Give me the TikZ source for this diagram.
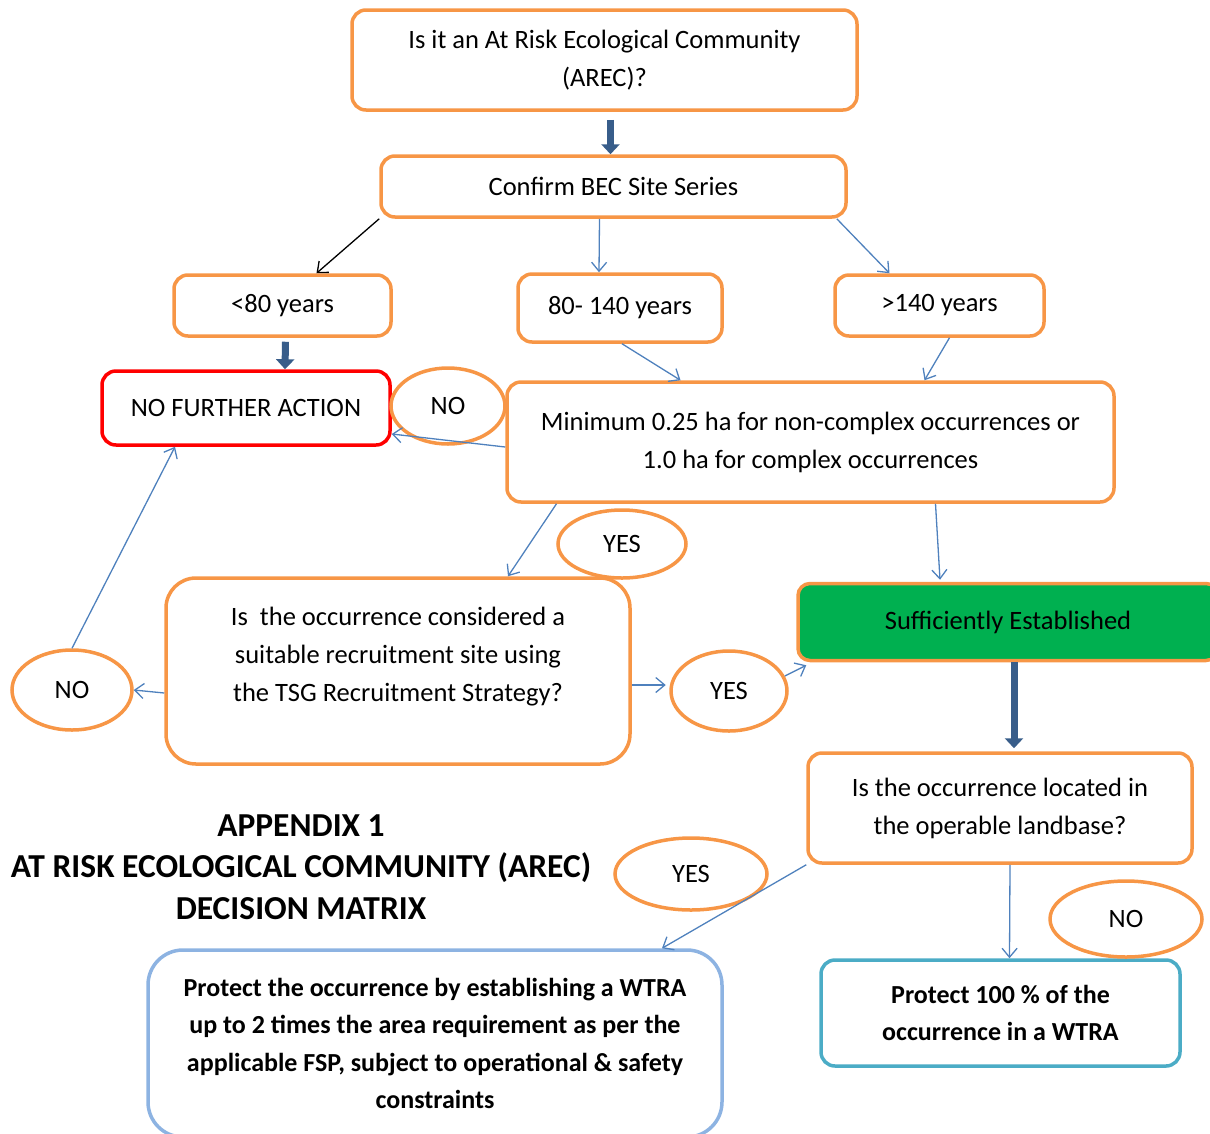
\documentclass[tikz,border=0pt]{standalone}
\usepackage{fontspec}
\setmainfont{Carlito}
\usetikzlibrary{shapes.geometric,arrows.meta}

\definecolor{boxorange}{HTML}{F79646}
\definecolor{stopred}{HTML}{FF0000}
\definecolor{goodgreen}{HTML}{00B050}
\definecolor{tealline}{HTML}{4BACC6}
\definecolor{paleblue}{HTML}{8DB3E2}
\definecolor{arrowblue}{HTML}{4F81BD}
\definecolor{deepblue}{HTML}{385D8A}

\tikzset{
  stepbox/.style={draw=boxorange,line width=3.5pt,rounded corners=14pt,fill=white,align=center,inner sep=0pt},
  answer/.style={ellipse,draw=boxorange,line width=3.5pt,fill=white,inner sep=0pt},
  flow/.style={-{Straight Barb[length=9pt,width=15pt]},draw=arrowblue,line width=1.3pt},
  bigflow/.style={-{Triangle[length=10pt,width=18pt]},draw=deepblue,line width=7pt},
  strong/.style={font=\fontsize{26}{37.5}\selectfont\bfseries},
}

\begin{document}
\begin{tikzpicture}[x=1pt,y=-1pt,font=\fontsize{26.5}{38}\selectfont]
\useasboundingbox (0,0) rectangle (1210,1133);
\node[stepbox,minimum width=505pt,minimum height=100pt] (arec) at (604.5,60) {Is it an At Risk Ecological Community\\(AREC)?};
\node[stepbox,minimum width=465pt,minimum height=61pt] (conf) at (613.5,186.5) {Confirm BEC Site Series};
\node[stepbox,minimum width=217pt,minimum height=61pt] (young) at (282.5,305.5) {<80 years};
\node[stepbox,minimum width=204pt,minimum height=68pt] (mid) at (620,308) {80- 140 years};
\node[stepbox,minimum width=209pt,minimum height=61pt] (old) at (939.5,305.5) {>140 years};
\node[stepbox,draw=stopred,minimum width=288pt,minimum height=74pt] (nfa) at (246,408) {NO FURTHER ACTION};
\node[stepbox,minimum width=607pt,minimum height=120pt] (minbox) at (810.5,442) {Minimum 0.25 ha for non-complex occurrences or\\1.0 ha for complex occurrences};
\node[stepbox,rounded corners=30pt,minimum width=464pt,minimum height=186pt] (recr) at (398,671) {};
\node[align=center] (recr-text) at (398,657) {Is\ \ the occurrence considered a\\suitable recruitment site using\\the TSG Recruitment Strategy?};
\node[stepbox,fill=goodgreen,rounded corners=12pt,minimum width=420pt,minimum height=77pt] (suff) at (1008,622) {Sufficiently Established};
\node[stepbox,minimum width=384pt,minimum height=110pt] (oper) at (1000,808) {Is the occurrence located in\\the operable landbase?};
\node[stepbox,strong,draw=tealline,minimum width=359pt,minimum height=106pt] (protB) at (1000.5,1013) {Protect 100 \% of the\\occurrence in a WTRA};
\node[stepbox,strong,draw=paleblue,rounded corners=35pt,minimum width=574pt,minimum height=187pt] (protA) at (435,1043.5) {Protect the occurrence by establishing a WTRA\\up to 2 times the area requirement as per the\\applicable FSP, subject to operational \& safety\\constraints};
\node[align=center,font=\fontsize{33.5}{41.5}\selectfont\bfseries] (title) at (301,867) {APPENDIX 1\\AT RISK ECOLOGICAL COMMUNITY (AREC)\\DECISION MATRIX};
% answers
\node[answer,minimum width=114pt,minimum height=76pt] (no-top) at (448,406) {NO};
\node[answer,minimum width=128pt,minimum height=68pt] (yes-top) at (622,544) {YES};
\node[answer,minimum width=120pt,minimum height=80pt] (no-left) at (72,690) {NO};
\node[answer,minimum width=116pt,minimum height=80pt] (yes-mid) at (729,691) {YES};
\node[answer,minimum width=152pt,minimum height=72pt] (yes-low) at (691,874) {YES};
\node[answer,minimum width=152pt,minimum height=76pt] (no-low) at (1126,919) {NO};
% connectors
\draw[bigflow] ([xshift=6pt,yshift=-8pt]arec.south) -- ([xshift=-3pt]conf.north);
\draw[-{Straight Barb[length=9pt,width=15pt]},line width=1.3pt] (conf.south west) -- ([xshift=34pt]young.north);
\draw[flow] ([xshift=-14pt]conf.south) -- ([xshift=-21pt]mid.north);
\draw[flow] ([xshift=-11pt]conf.south east) -- ([xshift=-50pt]old.north);
\draw[bigflow] ([xshift=3pt,yshift=-4pt]young.south) -- ([xshift=39pt]nfa.north);
\draw[flow] ([xshift=2pt]mid.south) -- ([xshift=-130pt]minbox.north);
\draw[flow] ([xshift=10pt]old.south) -- ([xshift=114pt]minbox.north);
\draw[flow] ([yshift=-5pt]minbox.west) -- ([yshift=-26pt]nfa.east);
\draw[flow] ([xshift=-254pt]minbox.south) -- ([xshift=110pt]recr.north);
\draw[flow] ([xshift=125pt]minbox.south) -- ([xshift=-68pt,yshift=2pt]suff.north);
\draw[flow] ([yshift=-22pt]recr.west) -- (no-left.east);
\draw[flow] (no-left.north) -- ([xshift=-71pt]nfa.south);
\draw[flow] ([yshift=-14pt]recr.east) -- ([xshift=34pt,yshift=-14pt]recr.east);
\draw[flow] (yes-mid.15) -- ([xshift=10pt,yshift=-3pt]suff.south west);
\draw[bigflow] ([xshift=6pt]suff.south) -- ([xshift=14pt,yshift=3pt]oper.north);
\draw[flow] (oper.south west) -- ([xshift=227pt]protA.north);
\draw[flow] ([xshift=10pt]oper.south) -- ([xshift=9pt]protB.north);
\end{tikzpicture}
\end{document}
